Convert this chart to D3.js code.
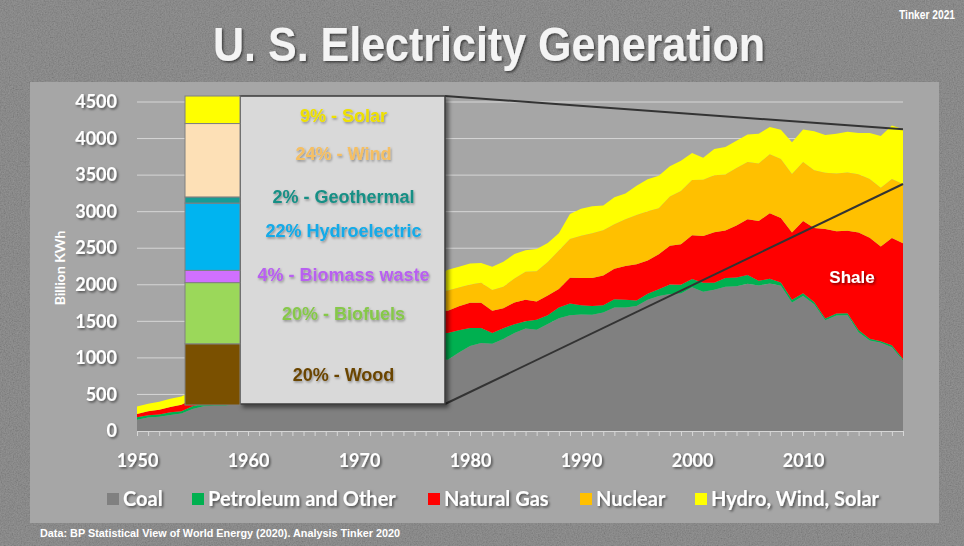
<!DOCTYPE html>
<html>
<head>
<meta charset="utf-8">
<title>U. S. Electricity Generation</title>
<style>
  body { margin: 0; background: #7d7d7d; }
  svg { display: block; }
</style>
</head>
<body>
<script src="https://d3js.org/d3.v7.min.js"></script>
<script>
// ---- data (billion kWh), 1950 .. 2019 ----
const years = d3.range(1950, 2020)
const coal = [
  154.5, 185.2, 195.4, 218.8, 239.1, 301.4, 338.5, 346.4, 344.4, 378.4,
  403.1, 421.9, 450.2, 493.9, 526.2, 570.9, 613.5, 630.5, 684.9, 706.0,
  704.4, 713.1, 771.1, 847.7, 828.4, 852.8, 944.4, 985.2, 975.7, 1075.0,
  1161.6, 1203.2, 1192.0, 1259.4, 1341.7, 1402.1, 1385.8, 1463.8, 1540.7, 1584.0,
  1594.0, 1590.6, 1621.2, 1690.1, 1690.7, 1709.4, 1795.2, 1845.0, 1873.5, 1881.1,
  1966.3, 1904.0, 1933.1, 1973.7, 1978.3, 2012.9, 1990.5, 2016.5, 1985.8, 1755.9,
  1847.3, 1733.4, 1514.0, 1581.1, 1581.7, 1352.4, 1239.1, 1205.8, 1146.0, 964.9
]
const petroleum = [
  33.7, 29.0, 29.3, 37.3, 32.7, 37.1, 36.1, 40.3, 40.6, 47.0,
  48.0, 49.0, 48.2, 52.0, 57.0, 64.8, 78.3, 89.3, 104.3, 138.3,
  184.2, 220.2, 274.3, 314.3, 300.9, 289.1, 320.0, 358.2, 365.1, 303.5,
  246.0, 206.4, 146.8, 144.5, 119.8, 100.2, 136.6, 118.5, 148.9, 158.3,
  126.5, 119.8, 100.2, 112.8, 105.9, 74.6, 81.4, 92.6, 128.8, 118.1,
  111.2, 125.0, 94.6, 119.4, 121.1, 122.2, 64.2, 65.7, 46.2, 38.9,
  37.1, 30.2, 23.2, 27.2, 30.2, 28.2, 24.2, 21.4, 25.2, 18.3
]
const naturalGas = [
  44.6, 56.9, 67.3, 73.6, 86.7, 95.3, 104.3, 114.5, 110.4, 137.5,
  158.0, 171.7, 184.4, 202.7, 220.2, 221.6, 251.2, 264.8, 304.4, 333.3,
  372.9, 374.0, 375.7, 340.9, 320.1, 299.8, 294.6, 305.5, 305.4, 329.5,
  346.2, 345.8, 305.3, 274.1, 297.4, 291.9, 248.5, 272.6, 252.8, 352.8,
  372.8, 381.6, 404.1, 414.9, 460.2, 496.1, 455.1, 479.4, 531.3, 556.4,
  601.0, 639.1, 691.0, 649.9, 710.1, 761.0, 816.4, 896.6, 883.0, 921.0,
  987.7, 1013.7, 1225.9, 1124.8, 1126.6, 1333.5, 1378.3, 1296.4, 1469.1, 1586.0
]
const nuclear = [
  0, 0, 0, 0, 0, 0, 0, 0, 0.2, 0.2,
  0.5, 1.7, 2.3, 3.2, 3.3, 3.7, 5.5, 7.7, 12.5, 13.9,
  21.8, 38.1, 54.1, 83.5, 114.0, 172.5, 191.1, 250.9, 276.4, 255.2,
  251.1, 272.7, 282.8, 293.7, 327.6, 383.7, 414.0, 455.3, 527.0, 529.4,
  576.9, 612.6, 618.8, 610.3, 640.4, 673.4, 674.7, 628.6, 673.7, 728.3,
  753.9, 768.8, 780.1, 763.7, 788.5, 782.0, 787.2, 806.4, 806.2, 798.9,
  807.0, 790.2, 769.3, 789.0, 797.2, 797.2, 805.7, 805.0, 807.1, 809.4
]
const hydroWindSolar = [
  101, 100, 107, 113, 113, 113, 122, 130, 153, 150,
  150, 150, 169, 165, 178, 194, 196, 222, 223, 254,
  252, 271, 277, 278, 307, 307, 288, 225, 284, 284,
  285, 270, 318, 342, 333, 295, 306, 262, 235, 343,
  368, 369, 340, 369, 350, 400, 438, 447, 413, 411,
  370, 300, 360, 377, 373, 377, 406, 372, 398, 436,
  446, 533, 516, 544, 558, 566, 629, 706, 731, 748
]
const seriesNames = ['Coal', 'Petroleum and Other', 'Natural Gas', 'Nuclear', 'Hydro, Wind, Solar']
const yTicks = [0, 500, 1000, 1500, 2000, 2500, 3000, 3500, 4000, 4500]

// renewables mix (inset bar), bottom to top
const renewNames = ['Wood', 'Biofuels', 'Biomass waste', 'Hydroelectric', 'Geothermal', 'Wind', 'Solar']
const renewShare = [20, 20, 4, 22, 2, 24, 9]
const renewLabels = ['20% - Wood', '20% - Biofuels', '4% - Biomass waste', '22% Hydroelectric',
                     '2% - Geothermal', '24% - Wind', '9% - Solar']

// ---- layout ----
const W = 964, H = 546
const PLOT = { left: 137, right: 903, top: 102, bottom: 431 }
const seriesColors = ['#808080', '#00b050', '#ff0000', '#ffc000', '#ffff00']
const renewColors = ['#7a5000', '#9bd85a', '#d070ff', '#00b4f0', '#179c94', '#fde0b6', '#ffff00']
const renewText = ['#6b4500', '#86c84a', '#b860f0', '#12aae8', '#168f85', '#f5bf63', '#eee000']
const labelNudge = [0, 0, -2, -6, -4, -7, 6]
const legendX = [107, 192, 428, 580, 695]
const LABEL_FONT = 'bold 18px Lato, "Open Sans", sans-serif'

const svg = d3.select('body').append('svg')
  .attr('width', W).attr('height', H)

const defs = svg.append('defs')
const noise = defs.append('filter').attr('id', 'noise')
  .attr('x', 0).attr('y', 0).attr('width', '100%').attr('height', '100%')
noise.append('feTurbulence').attr('type', 'fractalNoise')
  .attr('baseFrequency', 0.75).attr('numOctaves', 3).attr('seed', 4)
noise.append('feColorMatrix').attr('type', 'matrix')
  .attr('values', '1 0 0 0 0  1 0 0 0 0  1 0 0 0 0  0 0 0 0 1')

const shadow = defs.append('filter').attr('id', 'shadow')
  .attr('x', '-10%').attr('y', '-30%').attr('width', '130%').attr('height', '170%')
shadow.append('feDropShadow').attr('dx', 1.5).attr('dy', 1.5)
  .attr('stdDeviation', 1).attr('flood-color', '#000').attr('flood-opacity', 0.55)

const softShadow = defs.append('filter').attr('id', 'soft')
  .attr('x', '-10%').attr('y', '-30%').attr('width', '130%').attr('height', '170%')
softShadow.append('feDropShadow').attr('dx', 1).attr('dy', 1.5)
  .attr('stdDeviation', 1).attr('flood-color', '#000').attr('flood-opacity', 0.35)

const boxShadow = defs.append('filter').attr('id', 'boxshadow')
  .attr('x', '-10%').attr('y', '-10%').attr('width', '130%').attr('height', '130%')
boxShadow.append('feDropShadow').attr('dx', 3).attr('dy', 3)
  .attr('stdDeviation', 2).attr('flood-color', '#000').attr('flood-opacity', 0.5)

// textured background
svg.append('rect').attr('width', W).attr('height', H).attr('fill', '#7d7d7d')
svg.append('rect').attr('width', W).attr('height', H)
  .attr('filter', 'url(#noise)').attr('opacity', 0.2)

// title
svg.append('text')
  .attr('x', 489).attr('y', 61)
  .attr('text-anchor', 'middle')
  .attr('textLength', 552).attr('lengthAdjust', 'spacingAndGlyphs')
  .style('font', 'bold 48px "Liberation Sans", Arial, sans-serif')
  .attr('fill', '#f4f4f4')
  .attr('filter', 'url(#shadow)')
  .text('U. S. Electricity Generation')

svg.append('text')
  .attr('x', 955).attr('y', 19).attr('text-anchor', 'end')
  .attr('textLength', 56).attr('lengthAdjust', 'spacingAndGlyphs')
  .style('font', 'bold 12px "Liberation Sans", Arial, sans-serif')
  .attr('fill', '#fff')
  .text('Tinker 2021')

// chart panel
svg.append('rect')
  .attr('x', 30).attr('y', 82).attr('width', 909).attr('height', 441)
  .attr('fill', '#a6a6a6')

svg.append('text')
  .attr('x', 40).attr('y', 537)
  .attr('textLength', 360).attr('lengthAdjust', 'spacingAndGlyphs')
  .style('font', 'bold 11px "Liberation Sans", Arial, sans-serif')
  .attr('fill', '#fff')
  .text('Data: BP Statistical View of World Energy (2020). Analysis Tinker 2020')

// scales
const x = d3.scaleLinear().domain([years[0], years[years.length - 1]]).range([PLOT.left, PLOT.right])
const y = d3.scaleLinear().domain([0, 4500]).range([PLOT.bottom, PLOT.top])

// gridlines
svg.append('g').selectAll('line')
  .data(yTicks.filter(d => d > 0))
  .join('line')
  .attr('x1', PLOT.left).attr('x2', PLOT.right)
  .attr('y1', d => y(d)).attr('y2', d => y(d))
  .attr('stroke', '#d6d6d6').attr('stroke-width', 1)

// stacked areas
const table = years.map((yr, i) => ({
  year: yr,
  [seriesNames[0]]: coal[i],
  [seriesNames[1]]: petroleum[i],
  [seriesNames[2]]: naturalGas[i],
  [seriesNames[3]]: nuclear[i],
  [seriesNames[4]]: hydroWindSolar[i]
}))
const stacked = d3.stack().keys(seriesNames)(table)
const area = d3.area()
  .x(d => x(d.data.year))
  .y0(d => y(d[0]))
  .y1(d => y(d[1]))

svg.append('g').selectAll('path')
  .data(stacked)
  .join('path')
  .attr('d', area)
  .attr('fill', (d, i) => seriesColors[i])

// y axis labels
const yAxis = svg.append('g')
  .attr('transform', `translate(${PLOT.left},0)`)
  .call(d3.axisLeft(y).tickValues(yTicks).tickSize(0).tickPadding(20).tickFormat(d3.format('d')))
yAxis.select('.domain').remove()
yAxis.selectAll('text')
  .attr('fill', '#fff')
  .attr('filter', 'url(#shadow)')
  .style('font', LABEL_FONT)

svg.append('text')
  .attr('transform', 'translate(65,268) rotate(-90)')
  .attr('text-anchor', 'middle')
  .style('font', 'bold 14px Lato, "Open Sans", sans-serif')
  .attr('fill', '#fff')
  .text('Billion KWh')

// x axis: a tick every year, label every decade
const xAxis = svg.append('g')
  .attr('transform', `translate(0,${PLOT.bottom})`)
  .call(d3.axisBottom(x).tickValues(years).tickSize(5)
    .tickFormat(d => d % 10 === 0 ? d : ''))
xAxis.select('.domain').attr('stroke', '#d6d6d6')
xAxis.selectAll('.tick line').attr('stroke', '#d6d6d6')
xAxis.selectAll('text')
  .attr('y', 23)
  .attr('fill', '#fff')
  .attr('filter', 'url(#shadow)')
  .style('font', LABEL_FONT)

// legend
const legend = svg.append('g')
seriesNames.forEach((name, i) => {
  const g = legend.append('g').attr('transform', `translate(${legendX[i]},493)`)
  g.append('rect').attr('width', 12).attr('height', 12).attr('fill', seriesColors[i])
  g.append('text')
    .attr('x', 16).attr('y', 13)
    .attr('fill', '#fff')
    .attr('filter', 'url(#shadow)')
    .style('font', 'bold 20px Lato, "Open Sans", sans-serif')
    .text(name)
})

// inset: renewables mix
const BOX = { left: 240, right: 445, top: 96, bottom: 404 }
const last = years.length - 1
const nucTop = coal[last] + petroleum[last] + naturalGas[last] + nuclear[last]
const totalTop = nucTop + hydroWindSolar[last]

svg.append('g').selectAll('line')
  .data([[BOX.top, totalTop], [BOX.bottom, nucTop]])
  .join('line')
  .attr('x1', BOX.right).attr('y1', d => d[0])
  .attr('x2', x(years[last])).attr('y2', d => y(d[1]))
  .attr('stroke', '#333').attr('stroke-width', 2)

svg.append('rect')
  .attr('x', BOX.left).attr('y', BOX.top)
  .attr('width', BOX.right - BOX.left).attr('height', BOX.bottom - BOX.top)
  .attr('fill', '#d9d9d9')
  .attr('stroke', '#3a3a3a').attr('stroke-width', 1.5)
  .attr('filter', 'url(#boxshadow)')

const share = d3.scaleLinear().domain([0, d3.sum(renewShare)]).range([405, 96])
const cum = d3.cumsum(renewShare)
const bar = svg.append('g')
renewShare.forEach((v, i) => {
  const lo = cum[i] - v, hi = cum[i]
  bar.append('rect')
    .attr('x', 185).attr('width', 55)
    .attr('y', share(hi)).attr('height', share(lo) - share(hi))
    .attr('fill', renewColors[i])
    .attr('stroke', '#808080').attr('stroke-width', 1)
  bar.append('text')
    .attr('x', (BOX.left + BOX.right) / 2 + 1)
    .attr('y', share((lo + hi) / 2) + 6.5 + labelNudge[i])
    .attr('text-anchor', 'middle')
    .attr('fill', renewText[i])
    .attr('filter', 'url(#soft)')
    .style('font', 'bold 18px "Liberation Sans", Arial, sans-serif')
    .text(renewLabels[i])
})

// annotation
svg.append('text')
  .attr('x', 852).attr('y', 283)
  .attr('text-anchor', 'middle')
  .attr('fill', '#fff')
  .attr('filter', 'url(#shadow)')
  .style('font', 'bold 17px "Liberation Sans", Arial, sans-serif')
  .text('Shale')
</script>
</body>
</html>
